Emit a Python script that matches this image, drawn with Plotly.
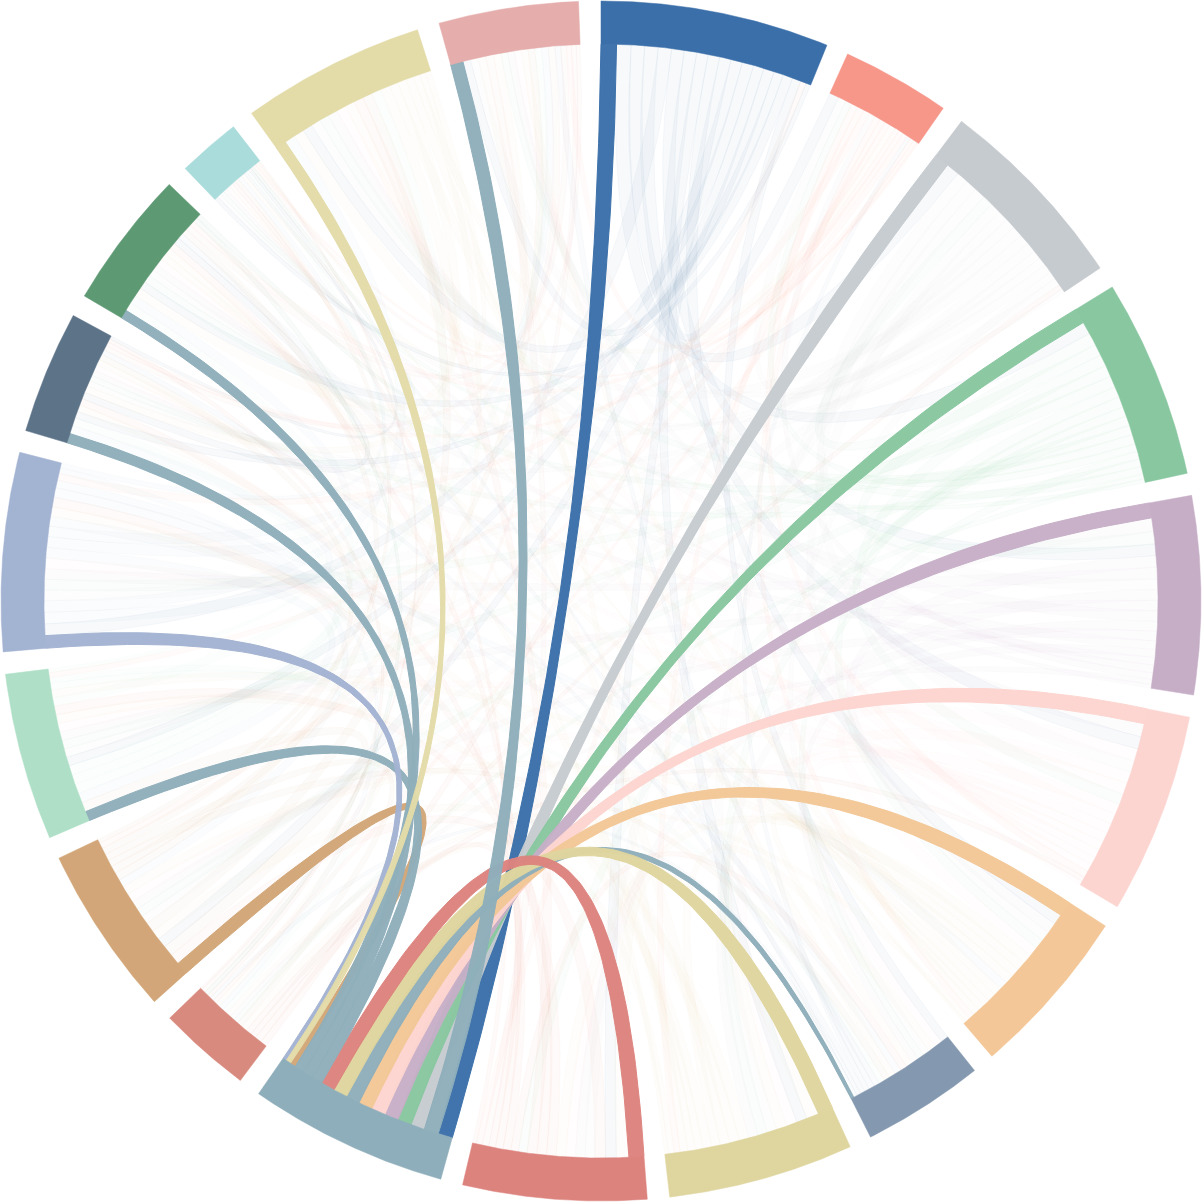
import math
import numpy as np
import plotly.graph_objects as go

# ---------------- data ----------------
group_names = ["G01", "G02", "G03", "G04", "G05", "G06", "G07", "G08", "G09", "G10",
               "G11", "G12", "G13", "G14", "G15", "G16", "G17", "G18", "G19", "G20"]
group_colors = ["#3b6fa9", "#f6978a", "#c6cbcf", "#88c7a0", "#c6aec7", "#fdd5d0", "#f3c797",
                "#8499b0", "#dfd59e", "#dd837e", "#8eaebb", "#d98a7e", "#d2a678", "#afe0c7",
                "#a3b3d2", "#5c7388", "#5d9972", "#abdcdc", "#e3dba8", "#e5adab"]
highlight_group = "G11"

# flow matrix rows (row i -> column j)
flows_g01 = [0.0, 1.2, 1.5, 1.4, 1.3, 1.4, 1.2, 0.9, 1.3, 1.2, 1.6, 0.6, 1.1, 1.2, 1.4, 1.0, 1.0, 0.5, 1.2, 1.1]
flows_g02 = [1.0, 0.0, 0.8, 0.7, 0.6, 0.7, 0.6, 0.4, 0.7, 0.6, 0.0, 0.4, 0.6, 0.5, 0.7, 0.4, 0.5, 0.2, 0.6, 0.5]
flows_g03 = [1.4, 0.9, 0.0, 1.1, 1.2, 1.2, 1.1, 0.8, 1.2, 1.1, 1.55, 0.5, 1.0, 1.1, 1.1, 0.8, 0.9, 0.4, 1.1, 0.9]
flows_g04 = [1.3, 0.8, 1.2, 0.0, 1.3, 1.2, 1.1, 0.8, 1.1, 1.0, 1.55, 0.5, 1.0, 1.2, 1.2, 0.8, 1.0, 0.4, 1.0, 0.8]
flows_g05 = [1.2, 0.7, 1.1, 1.3, 0.0, 1.4, 1.2, 0.8, 1.1, 1.0, 1.55, 0.5, 1.0, 1.1, 1.2, 0.8, 0.9, 0.4, 1.1, 0.8]
flows_g06 = [1.3, 0.7, 1.2, 1.1, 1.4, 0.0, 1.3, 0.9, 1.2, 1.1, 1.55, 0.5, 1.0, 1.0, 1.2, 0.8, 0.9, 0.4, 1.1, 0.8]
flows_g07 = [1.1, 0.6, 1.0, 1.0, 1.1, 1.0, 0.0, 0.8, 0.9, 1.0, 1.55, 0.5, 0.9, 0.9, 0.9, 0.7, 0.7, 0.3, 0.9, 0.7]
flows_g08 = [0.8, 0.5, 0.7, 0.7, 0.7, 0.8, 0.7, 0.0, 0.8, 0.7, 0.3, 0.4, 0.6, 0.6, 0.7, 0.5, 0.6, 0.4, 0.7, 0.6]
flows_g09 = [1.1, 0.6, 1.0, 1.0, 1.0, 1.1, 1.1, 0.9, 0.0, 1.3, 1.55, 0.6, 1.0, 0.9, 1.0, 0.8, 0.8, 0.4, 1.0, 0.8]
flows_g10 = [1.1, 0.6, 1.0, 0.9, 1.0, 1.0, 1.0, 0.8, 1.3, 0.0, 1.55, 0.7, 1.1, 1.0, 1.0, 0.8, 0.8, 0.4, 1.0, 0.7]
flows_g11 = [1.5, 0.0, 1.45, 1.45, 1.45, 1.45, 1.45, 1.45, 1.45, 1.45, 0.0, 0.0, 0.6, 1.1, 0.4, 1.1, 1.0, 0.0, 0.5, 1.5]
flows_g12 = [0.7, 0.4, 0.6, 0.5, 0.5, 0.6, 0.5, 0.4, 0.6, 0.7, 0.0, 0.0, 0.6, 0.5, 0.5, 0.4, 0.4, 0.2, 0.5, 0.4]
flows_g13 = [1.0, 0.6, 0.9, 0.9, 0.9, 0.9, 0.9, 0.7, 1.0, 1.1, 1.3, 0.7, 0.0, 1.1, 0.8, 0.7, 0.8, 0.4, 1.0, 0.8]
flows_g14 = [0.9, 0.5, 0.9, 0.9, 0.9, 0.9, 0.8, 0.7, 0.9, 0.9, 1.0, 0.6, 1.0, 0.0, 1.0, 1.0, 1.0, 0.4, 1.0, 0.9]
flows_g15 = [1.2, 0.7, 1.1, 1.1, 1.1, 1.1, 1.0, 0.8, 1.0, 1.0, 1.3, 0.6, 1.0, 1.1, 0.0, 1.2, 1.1, 0.5, 1.2, 1.1]
flows_g16 = [0.7, 0.4, 0.6, 0.6, 0.6, 0.6, 0.6, 0.5, 0.7, 0.7, 1.0, 0.4, 0.6, 0.8, 0.9, 0.0, 0.7, 0.3, 0.7, 0.5]
flows_g17 = [0.8, 0.5, 0.7, 0.8, 0.7, 0.7, 0.7, 0.6, 0.7, 0.7, 0.9, 0.5, 0.6, 0.9, 0.9, 0.7, 0.0, 0.5, 0.9, 0.6]
flows_g18 = [0.4, 0.2, 0.4, 0.4, 0.4, 0.4, 0.2, 0.3, 0.4, 0.4, 0.0, 0.2, 0.4, 0.3, 0.4, 0.3, 0.3, 0.0, 0.4, 0.3]
flows_g19 = [1.0, 0.7, 1.0, 1.0, 1.0, 1.0, 0.9, 0.8, 1.0, 1.0, 1.1, 0.6, 1.0, 1.0, 1.1, 0.9, 1.0, 0.6, 0.0, 1.1]
flows_g20 = [0.8, 0.5, 0.8, 0.7, 0.7, 0.7, 0.7, 0.6, 0.8, 0.8, 1.3, 0.5, 0.7, 0.7, 0.7, 0.6, 0.7, 0.4, 0.8, 0.0]

matrix = [flows_g01, flows_g02, flows_g03, flows_g04, flows_g05, flows_g06, flows_g07,
          flows_g08, flows_g09, flows_g10, flows_g11, flows_g12, flows_g13, flows_g14,
          flows_g15, flows_g16, flows_g17, flows_g18, flows_g19, flows_g20]

# ---------------- layout (d3.chord-like, subgroups sorted descending) ----------------
PAD_DEG = 2.15
R_OUT, R_IN = 600.0, 557.0
PINCH = 0.42

M = np.array(matrix, dtype=float)
n = len(group_names)
pad = math.radians(PAD_DEG)
k = (2 * math.pi - n * pad) / M.sum()

groups = []
sub = {}
x = 0.0
for i in range(n):
    x0 = x
    order = sorted(range(n), key=lambda j: -M[i, j])
    for j in order:
        v = M[i, j]
        sub[(i, j)] = (x, x + v * k)
        x += v * k
    groups.append((x0, x))
    x += pad


def pol(r, a):
    return r * math.sin(a), r * math.cos(a)


def hexrgba(h, a):
    h = h.lstrip("#")
    return f"rgba({int(h[0:2],16)},{int(h[2:4],16)},{int(h[4:6],16)},{a})"


def ribbon_path(s, t, r):
    sa0, sa1 = s
    ta0, ta1 = t
    ms, mt = (sa0 + sa1) / 2, (ta0 + ta1) / 2
    ws, wt = (sa1 - sa0) * r, (ta1 - ta0) * r
    p0 = np.array(pol(r, ms))
    p2 = np.array(pol(r, mt))
    u = np.linspace(0, 1, 90)[:, None]
    B = (1 - u) ** 2 * p0 + u ** 2 * p2
    dB = -2 * (1 - u) * p0 + 2 * u * p2
    L = np.linalg.norm(dB, axis=1, keepdims=True)
    L[L == 0] = 1
    nrm = np.hstack([-dB[:, 1:2], dB[:, 0:1]]) / L
    w = ((1 - u) * ws + u * wt) * (1 - PINCH * (4 * u * (1 - u)) ** 3)
    left = B + nrm * w / 2
    right = (B - nrm * w / 2)[::-1]
    pts = np.vstack([left, right, left[:1]])
    return pts[:, 0], pts[:, 1]


h = group_names.index(highlight_group)
faint, strong = [], []
for i in range(n):
    for j in range(i, n):
        if M[i, j] > 0 or M[j, i] > 0:
            if M[i, j] >= M[j, i]:
                src, tgt = (i, j), (j, i)
            else:
                src, tgt = (j, i), (i, j)
            rec = (src, tgt)
            (strong if h in (i, j) else faint).append(rec)

fig = go.Figure()

for src, tgt in faint:
    xs, ys = ribbon_path(sub[src], sub[tgt], R_IN)
    c = group_colors[src[0]]
    fig.add_trace(go.Scatter(x=xs, y=ys, mode="lines", fill="toself",
                             fillcolor=hexrgba(c, 0.045),
                             line=dict(color=hexrgba(c, 0.08), width=0.6),
                             hoverinfo="skip", showlegend=False))

for src, tgt in strong:
    xs, ys = ribbon_path(sub[src], sub[tgt], R_IN)
    c = group_colors[src[0]]
    fig.add_trace(go.Scatter(x=xs, y=ys, mode="lines", fill="toself",
                             fillcolor=hexrgba(c, 0.97),
                             line=dict(color=hexrgba(c, 0.97), width=1.0),
                             hoverinfo="skip", showlegend=False))

for i, (a0, a1) in enumerate(groups):
    aa = np.linspace(a0, a1, 120)
    ox = R_OUT * np.sin(aa); oy = R_OUT * np.cos(aa)
    ix = R_IN * np.sin(aa[::-1]); iy = R_IN * np.cos(aa[::-1])
    xs = np.concatenate([ox, ix, ox[:1]])
    ys = np.concatenate([oy, iy, oy[:1]])
    fig.add_trace(go.Scatter(x=xs, y=ys, mode="lines", fill="toself",
                             fillcolor=group_colors[i],
                             line=dict(color=group_colors[i], width=0.5),
                             name=group_names[i], hoverinfo="name", showlegend=False))

fig.update_layout(width=1202, height=1202, margin=dict(l=0, r=0, t=0, b=0),
                  paper_bgcolor="white", plot_bgcolor="white",
                  xaxis=dict(range=[-601, 601], visible=False, fixedrange=True),
                  yaxis=dict(range=[-601, 601], visible=False, fixedrange=True))

fig.write_html("out.html", config={"displayModeBar": False},
               post_script="document.body.style.margin='0';document.body.style.overflow='hidden';")
